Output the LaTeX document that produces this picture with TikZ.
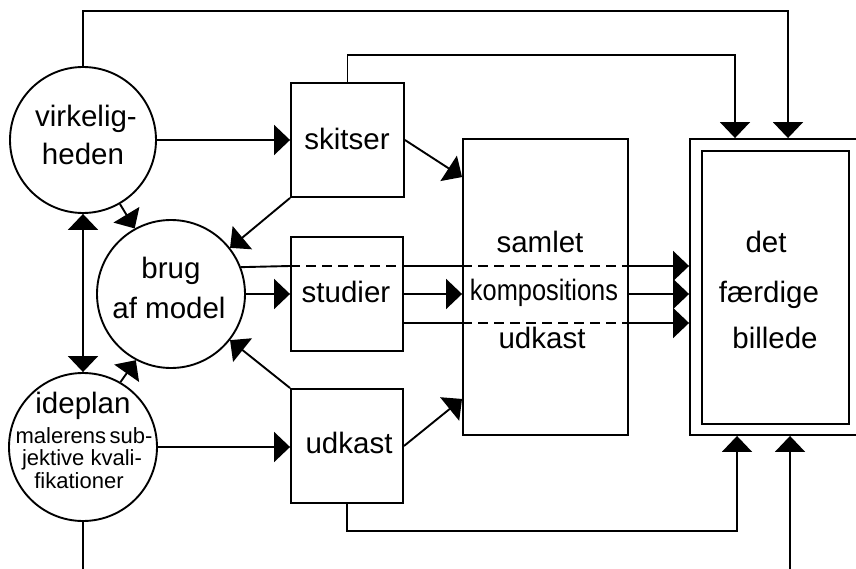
\documentclass[tikz,border=0pt]{standalone}
\usepackage{fontspec}
\setmainfont{Liberation Sans}
\usepackage{graphicx}
\usetikzlibrary{arrows.meta}

\tikzset{
  flow/.style={line width=1.9pt},
  arrowed/.style={flow, -{Triangle[length=16pt,width=30pt]}},
  twoway/.style={flow, {Triangle[length=16pt,width=30pt]}-{Triangle[length=16pt,width=30pt]}},
  divider/.style={line width=1.7pt, dash pattern=on 10pt off 6pt},
  stage/.style={draw, line width=1.9pt, circle, inner sep=0pt},
  panel/.style={draw, line width=1.9pt, rectangle, inner sep=0pt},
  word/.style={anchor=base, inner sep=0pt, font=\fontsize{29.5}{34}\selectfont},
  smallword/.style={anchor=base, inner sep=0pt, font=\fontsize{22}{26}\selectfont},
}

\begin{document}
\begin{tikzpicture}[x=1pt,y=-1pt]
\useasboundingbox (0,0) rectangle (856,569);
\clip (0,0) rectangle (856,569);
\fill[white] (0,0) rectangle (856,569);

% sources
\node[stage, minimum size=146pt] (virk) at (83,140) {};
\node[stage, minimum size=148pt] (brug) at (171,294) {};
\node[stage, minimum size=148pt] (idea) at (83,447) {};

% intermediate stages
\node[panel, minimum width=113pt, minimum height=114pt] (skitser) at (347.5,140) {};
\node[panel, minimum width=112pt, minimum height=114pt] (studier) at (347,294) {};
\node[panel, minimum width=112pt, minimum height=114pt] (udkast) at (347,446) {};
\node[panel, minimum width=165pt, minimum height=296pt] (comp) at (545.5,287) {};

% final picture, double frame
\node[panel, minimum width=172pt, minimum height=296pt] (frame) at (776,287) {};
\node[panel, minimum width=147pt, minimum height=273pt] (inner) at (775.5,287.5) {};

% labels
\node[word] (t-virk1) at (86,127) {virkelig-};
\node[word] (t-virk2) at (83,165) {heden};
\node[word] (t-brug1) at (171,278) {brug};
\node[word] (t-brug2) at (169,318) {af model};
\node[word] (t-idea1) at (83,413) {ideplan};
\node[smallword] (t-idea2) at (84,443) {malerens\hspace{3.5pt}sub-};
\node[smallword] (t-idea3) at (82,465) {jektive kvali-};
\node[smallword] (t-idea4) at (79,488) {fikationer};
\node[word] (t-skitser) at (347,150) {skitser};
\node[word] (t-studier) at (346,302) {studier};
\node[word] (t-udkast) at (349,453) {udkast};
\node[word] (t-comp1) at (540,252) {samlet};
\node[word] (t-comp2) at (544,300) {\scalebox{0.86}[1]{kompositions}};
\node[word] (t-comp3) at (542,348) {udkast};
\node[word] (t-fin1) at (766,253) {det};
\node[word] (t-fin2) at (769,302) {færdige};
\node[word] (t-fin3) at (775,348) {billede};

% routing points of the long connectors
\coordinate (topway) at (788,11);
\coordinate (skway) at (735,55);
\coordinate (udway) at (737,531);
\coordinate (botway) at (790,575);
\coordinate (lineA) at (0,266);
\coordinate (lineC) at (0,323);

% reality, idea plan and model
\draw[twoway] (virk.south) -- (idea.north);
\draw[arrowed] (virk.-60) -- (brug.119);
\draw[arrowed] (idea.60) -- (brug.242);
\draw[arrowed] (virk.east) -- (skitser.west);
\draw[arrowed] (idea.east) -- (udkast.west |- idea.east);

% sketches and drafts feed the model and the composition
\draw[arrowed] (skitser.south west) -- (brug.38);
\draw[arrowed] (udkast.north west) -- (brug.-38);
\draw[arrowed] (skitser.east) -- ([yshift=-39pt]comp.north west);
\draw[arrowed] (udkast.east) -- ([yshift=37pt]comp.south west);

% three parallel lines through studies and composition
\draw[flow] (brug.21.4) -- (studier.west |- lineA);
\draw[divider] (studier.west |- lineA) -- (studier.east |- lineA);
\draw[flow] (studier.east |- lineA) -- (comp.west |- lineA);
\draw[divider] (comp.west |- lineA) -- (comp.east |- lineA);
\draw[arrowed] (comp.east |- lineA) -- (frame.west |- lineA);

\draw[arrowed] (brug.east) -- (studier.west);
\draw[arrowed] (studier.east) -- (comp.west |- studier.east);
\draw[arrowed] (comp.east |- studier.east) -- (frame.west |- studier.east);

\draw[flow] (studier.east |- lineC) -- (comp.west |- lineC);
\draw[divider] (comp.west |- lineC) -- (comp.east |- lineC);
\draw[arrowed] (comp.east |- lineC) -- (frame.west |- lineC);

% long connectors into the final picture
\draw[arrowed] (virk.north) |- (topway) -- (topway |- frame.north);
\draw[arrowed] (skitser.north) |- (skway) -- (skway |- frame.north);
\draw[arrowed] (udkast.south) |- (udway) -- (udway |- frame.south);
\draw[flow] (idea.south) -- (idea.south |- botway);
\draw[arrowed] (botway) -- (botway |- frame.south);
\end{tikzpicture}
\end{document}
